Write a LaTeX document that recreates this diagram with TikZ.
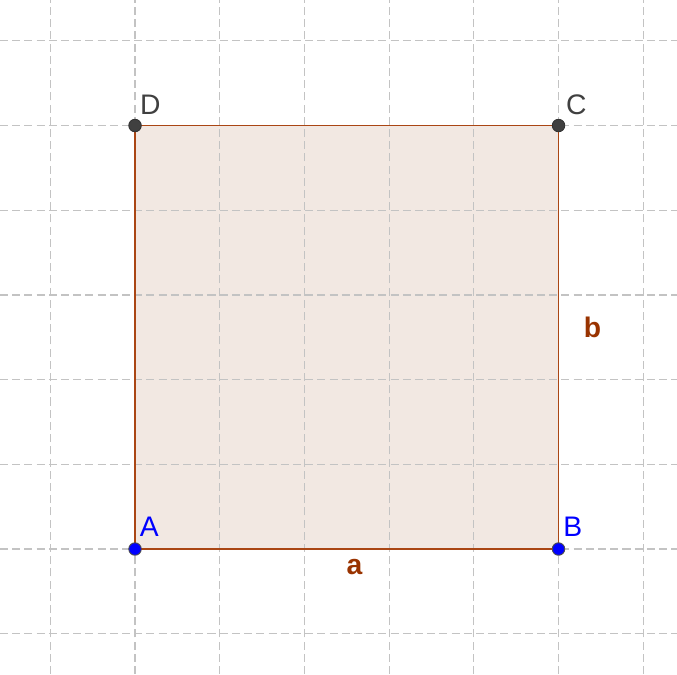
\documentclass[tikz,border=0pt]{standalone}
\usepackage{fontspec}
\setmainfont{Liberation Sans}

\definecolor{edgebrown}{RGB}{170,70,20}
\definecolor{labelbrown}{RGB}{153,51,0}
\definecolor{fillbrown}{RGB}{242,232,226}
\definecolor{gridgray}{RGB}{195,195,195}
\definecolor{pointgray}{RGB}{64,64,64}

\begin{document}
\begin{tikzpicture}[
    gridline/.style={gridgray, line width=0.4pt, dash pattern=on 2.7pt off 1.4pt},
    edge/.style={edgebrown, line width=0.6pt},
    freept/.style={circle, fill=blue, draw=black!70, line width=0.3pt, inner sep=0pt, minimum size=4.2pt},
    fixpt/.style={circle, fill=pointgray, draw=black!80, line width=0.3pt, inner sep=0pt, minimum size=4.2pt},
    ptlabel/.style={font=\fontsize{9.5}{11}\selectfont},
    sidelabel/.style={font=\fontsize{9.5}{11}\selectfont\bfseries, text=labelbrown}
]
    \useasboundingbox (-1.594,-1.476) rectangle (6.399,6.482);

    \fill[fillbrown] (0,0) rectangle (5,5);
    \foreach \x in {-1,...,6}
        \draw[gridline] (\x,-1.476) -- (\x,6.482);
    \foreach \y in {-1,...,6}
        \draw[gridline] (-1.594,\y) -- (6.399,\y);

    \coordinate (A) at (0,0);
    \coordinate (B) at (5,0);
    \coordinate (C) at (5,5);
    \coordinate (D) at (0,5);

    \draw[edge] (A) -- (B) -- (C) -- (D) -- cycle;
    \node[freept] (ptA) at (A) {};
    \node[freept] (ptB) at (B) {};
    \node[fixpt] (ptC) at (C) {};
    \node[fixpt] (ptD) at (D) {};

    \node[ptlabel, text=blue] (labelA) at (0.17,0.26) {A};
    \node[ptlabel, text=blue] (labelB) at (5.17,0.26) {B};
    \node[ptlabel, text=pointgray] (labelC) at (5.21,5.25) {C};
    \node[ptlabel, text=pointgray] (labelD) at (0.18,5.25) {D};

    \node[sidelabel] (sidea) at (2.59,-0.21) {a};
    \node[sidelabel] (sideb) at (5.40,2.62) {b};
\end{tikzpicture}
\end{document}
